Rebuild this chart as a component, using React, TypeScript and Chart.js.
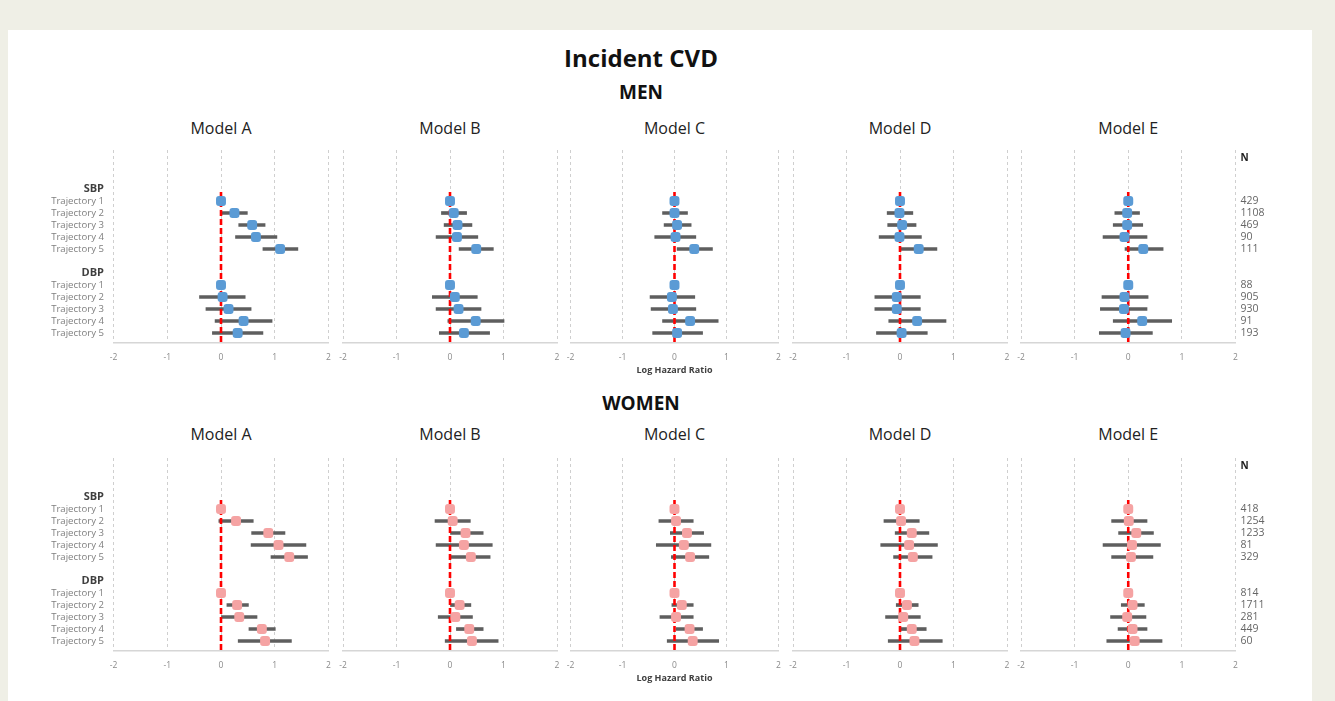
import React, { useEffect, useRef } from "react";
import { Chart, registerables } from "chart.js";

Chart.register(...registerables);

const FONT = "'Open Sans', 'DejaVu Sans', sans-serif";
Chart.defaults.font.family = FONT;

// ---------- data ----------
const TITLE = "Incident CVD";
const SECTIONS = ["MEN", "WOMEN"];
const MODELS = ["Model A", "Model B", "Model C", "Model D", "Model E"];
const X_AXIS_TITLE = "Log Hazard Ratio";
const N_HEADER = "N";

const ROW_LABELS = [
  "SBP", "Trajectory 1", "Trajectory 2", "Trajectory 3", "Trajectory 4", "Trajectory 5",
  "",
  "DBP", "Trajectory 1", "Trajectory 2", "Trajectory 3", "Trajectory 4", "Trajectory 5",
];

// order of values: SBP T1..T5, DBP T1..T5
const MEN_A_EST = [0, 0.25, 0.58, 0.65, 1.10, 0, 0.03, 0.14, 0.42, 0.31];
const MEN_A_LO = [null, 0.01, 0.33, 0.27, 0.78, null, -0.40, -0.28, -0.11, -0.16];
const MEN_A_HI = [null, 0.49, 0.82, 1.04, 1.43, null, 0.45, 0.56, 0.95, 0.78];

const MEN_B_EST = [0, 0.07, 0.14, 0.13, 0.49, 0, 0.09, 0.16, 0.48, 0.26];
const MEN_B_LO = [null, -0.16, -0.11, -0.26, 0.17, null, -0.33, -0.26, -0.04, -0.20];
const MEN_B_HI = [null, 0.31, 0.41, 0.52, 0.81, null, 0.51, 0.58, 1.01, 0.74];

const MEN_C_EST = [0, 0.0, 0.05, 0.02, 0.38, 0, -0.05, -0.03, 0.30, 0.05];
const MEN_C_LO = [null, -0.23, -0.20, -0.38, 0.05, null, -0.47, -0.45, -0.23, -0.42];
const MEN_C_HI = [null, 0.25, 0.32, 0.41, 0.73, null, 0.39, 0.41, 0.84, 0.54];

const MEN_D_EST = [0, -0.01, 0.04, -0.01, 0.35, 0, -0.06, -0.06, 0.32, 0.03];
const MEN_D_LO = [null, -0.24, -0.23, -0.39, 0.02, null, -0.47, -0.47, -0.21, -0.44];
const MEN_D_HI = [null, 0.24, 0.30, 0.40, 0.69, null, 0.38, 0.38, 0.86, 0.51];

const MEN_E_EST = [0, -0.02, -0.02, -0.07, 0.28, 0, -0.07, -0.08, 0.26, -0.05];
const MEN_E_LO = [null, -0.25, -0.28, -0.47, -0.06, null, -0.49, -0.52, -0.28, -0.54];
const MEN_E_HI = [null, 0.21, 0.27, 0.35, 0.65, null, 0.37, 0.35, 0.81, 0.45];

const WOMEN_A_EST = [0, 0.28, 0.88, 1.07, 1.27, 0, 0.30, 0.34, 0.76, 0.82];
const WOMEN_A_LO = [null, -0.04, 0.57, 0.56, 0.93, null, 0.11, 0.01, 0.52, 0.32];
const WOMEN_A_HI = [null, 0.60, 1.19, 1.58, 1.61, null, 0.51, 0.67, 1.01, 1.31];

const WOMEN_B_EST = [0, 0.05, 0.29, 0.26, 0.39, 0, 0.18, 0.10, 0.36, 0.41];
const WOMEN_B_LO = [null, -0.28, 0.0, -0.26, 0.0, null, 0.0, -0.22, 0.12, -0.09];
const WOMEN_B_HI = [null, 0.38, 0.62, 0.79, 0.75, null, 0.39, 0.42, 0.62, 0.90];

const WOMEN_C_EST = [0, 0.03, 0.24, 0.18, 0.30, 0, 0.14, 0.03, 0.29, 0.35];
const WOMEN_C_LO = [null, -0.30, -0.08, -0.35, -0.06, null, -0.05, -0.28, 0.03, -0.14];
const WOMEN_C_HI = [null, 0.36, 0.56, 0.70, 0.66, null, 0.36, 0.36, 0.54, 0.85];

const WOMEN_D_EST = [0, 0.02, 0.22, 0.17, 0.24, 0, 0.13, 0.06, 0.22, 0.27];
const WOMEN_D_LO = [null, -0.30, -0.09, -0.36, -0.12, null, -0.07, -0.27, -0.01, -0.22];
const WOMEN_D_HI = [null, 0.36, 0.54, 0.70, 0.60, null, 0.34, 0.38, 0.49, 0.79];

const WOMEN_E_EST = [0, 0.01, 0.15, 0.07, 0.05, 0, 0.08, -0.02, 0.08, 0.12];
const WOMEN_E_LO = [null, -0.31, -0.18, -0.47, -0.31, null, -0.13, -0.33, -0.19, -0.40];
const WOMEN_E_HI = [null, 0.35, 0.47, 0.60, 0.46, null, 0.30, 0.33, 0.35, 0.63];

const N_MEN = [429, 1108, 469, 90, 111, 88, 905, 930, 91, 193];
const N_WOMEN = [418, 1254, 1233, 81, 329, 814, 1711, 281, 449, 60];

const X_MIN = -2;
const X_MAX = 2;
const NULL_EFFECT = 0;

// ---------- layout / style ----------
const Y_MIN = -3.25;
const Y_MAX = 12.83;
const N_HEADER_ROW = -2.6;
const REF_LINE_TOP_ROW = 0.25;

const TRAJ_ROWS = ROW_LABELS.map((l, i) => (l.startsWith("Trajectory") ? i : -1)).filter((i) => i >= 0);
const isHeaderRow = (v: number) => ROW_LABELS[v] === "SBP" || ROW_LABELS[v] === "DBP";

const CANVAS_H = 240;
const PAD_TOP = 10;
const X_AXIS_H = 37;
const SECTION_TOPS = [140, 448];

const BOXES = [
  { left: 8, width: 327, padL: 0, padR: 6.5, yW: 105.5, nW: 0 },
  { left: 335, width: 228, padL: 8, padR: 6, yW: 0, nW: 0 },
  { left: 563, width: 222, padL: 7.5, padR: 6.5, yW: 0, nW: 0 },
  { left: 785, width: 228, padL: 8, padR: 6, yW: 0, nW: 0 },
  { left: 1013, width: 273, padL: 8, padR: 0, yW: 0, nW: 50.5 },
];

const MEN_COLOR = "#5b9bd5";
const WOMEN_COLOR = "#f5a3a3";
const BAR_COLOR = "#5e5e5e";

const zeroPad = (s: any) => {
  s.paddingLeft = 0;
  s.paddingRight = 0;
  s.paddingTop = 0;
  s.paddingBottom = 0;
};

type PanelProps = {
  est: number[];
  lo: (number | null)[];
  hi: (number | null)[];
  color: string;
  col: number;
  top: number;
  nValues?: number[];
  axisTitle?: boolean;
};

function Panel({ est, lo, hi, color, col, top, nValues, axisTitle }: PanelProps) {
  const ref = useRef<HTMLCanvasElement>(null);
  const box = BOXES[col];

  useEffect(() => {
    if (!ref.current) return;
    const points = est.map((v, i) => ({ x: v, y: TRAJ_ROWS[i] }));
    const bars = est
      .map((_, i) => (lo[i] == null || hi[i] == null ? null : { x: [lo[i], hi[i]], y: TRAJ_ROWS[i] }))
      .filter((d) => d !== null);
    const refLine = [
      { x: NULL_EFFECT, y: REF_LINE_TOP_ROW },
      { x: NULL_EFFECT, y: Y_MAX },
    ];

    const scales: any = {
      x: {
        type: "linear",
        min: X_MIN,
        max: X_MAX,
        position: "bottom",
        ticks: {
          stepSize: 1,
          color: "#8a8a8a",
          font: { size: 8.5, family: FONT },
          padding: 9,
          maxRotation: 0,
          autoSkip: false,
        },
        grid: { color: "#cfcfcf", lineWidth: 1, drawTicks: false },
        border: { display: true, color: "#d6d6d6", width: 1.5, dash: [3, 3] },
        title: axisTitle
          ? {
              display: true,
              text: X_AXIS_TITLE,
              color: "#404040",
              font: { size: 9, weight: "bold", family: FONT },
              padding: { top: 0, bottom: 4 },
            }
          : { display: false },
        afterFit: (s: any) => {
          s.height = X_AXIS_H;
          zeroPad(s);
        },
      },
      y: {
        type: "linear",
        min: Y_MIN,
        max: Y_MAX,
        reverse: true,
        offset: false,
        display: box.yW > 0,
        position: "left",
        grid: { display: false, offset: false, drawTicks: false, tickLength: 0 },
        border: { display: false },
        afterBuildTicks: (s: any) => {
          s.ticks = ROW_LABELS.map((_, i) => ({ value: i }));
        },
        ticks: {
          autoSkip: false,
          padding: 9.5,
          callback: (v: any) => ROW_LABELS[v] ?? "",
          color: (ctx: any) => (isHeaderRow(ctx.tick?.value) ? "#3f3f3f" : "#7f7f7f"),
          font: (ctx: any) =>
            isHeaderRow(ctx.tick?.value)
              ? { family: FONT, size: 11, weight: "bold" }
              : { family: FONT, size: 9.6 },
        },
        afterFit: (s: any) => {
          if (box.yW > 0) s.width = box.yW;
          zeroPad(s);
        },
      },
    };

    if (nValues) {
      scales.yN = {
        type: "linear",
        min: Y_MIN,
        max: Y_MAX,
        reverse: true,
        offset: false,
        display: true,
        position: "right",
        grid: { display: false, drawOnChartArea: false, drawTicks: false, tickLength: 0 },
        border: { display: false },
        afterBuildTicks: (s: any) => {
          s.ticks = [{ value: N_HEADER_ROW }, ...TRAJ_ROWS.map((v) => ({ value: v }))];
        },
        ticks: {
          autoSkip: false,
          padding: 5,
          callback: (v: any) => {
            if (v === N_HEADER_ROW) return N_HEADER;
            const k = TRAJ_ROWS.indexOf(v);
            return k >= 0 ? String(nValues[k]) : "";
          },
          color: (ctx: any) => (ctx.tick?.value === N_HEADER_ROW ? "#222" : "#666"),
          font: (ctx: any) =>
            ctx.tick?.value === N_HEADER_ROW
              ? { family: FONT, size: 10, weight: "bold" }
              : { family: FONT, size: 10.5 },
        },
        afterFit: (s: any) => {
          s.width = box.nW;
          zeroPad(s);
        },
      };
    }

    const chart = new Chart(ref.current, {
      type: "bar",
      data: {
        datasets: [
          {
            type: "scatter",
            data: points,
            yAxisID: "y",
            pointStyle: "rectRounded",
            pointRadius: 5.8,
            pointBackgroundColor: color,
            pointBorderWidth: 0,
            backgroundColor: color,
            order: 0,
          } as any,
          {
            type: "line",
            data: refLine,
            yAxisID: "y",
            borderColor: "#ff0000",
            borderWidth: 2.6,
            borderDash: [6, 3],
            pointRadius: 0,
            fill: false,
            order: 1,
          } as any,
          {
            type: "bar",
            data: bars,
            yAxisID: "y",
            backgroundColor: BAR_COLOR,
            barThickness: 3,
            borderWidth: 0,
            order: 2,
          } as any,
        ],
      },
      options: {
        indexAxis: "y",
        responsive: false,
        animation: false,
        events: [],
        layout: { padding: { left: box.padL, right: box.padR, top: PAD_TOP, bottom: 0 } },
        plugins: { legend: { display: false }, tooltip: { enabled: false }, title: { display: false } },
        scales,
      } as any,
    });
    return () => chart.destroy();
  }, []);

  return (
    <canvas
      ref={ref}
      width={box.width}
      height={CANVAS_H}
      style={{ position: "absolute", left: box.left, top, width: box.width, height: CANVAS_H }}
    />
  );
}

function Text({ x, y, size, bold, color, children }: any) {
  return (
    <div
      style={{
        position: "absolute",
        left: x,
        top: y,
        transform: "translate(-50%, -50%)",
        fontSize: size,
        fontWeight: bold ? 700 : 400,
        color,
        lineHeight: 1,
        whiteSpace: "nowrap",
        fontFamily: FONT,
      }}
    >
      {children}
    </div>
  );
}

const MEN_DATA = [
  [MEN_A_EST, MEN_A_LO, MEN_A_HI],
  [MEN_B_EST, MEN_B_LO, MEN_B_HI],
  [MEN_C_EST, MEN_C_LO, MEN_C_HI],
  [MEN_D_EST, MEN_D_LO, MEN_D_HI],
  [MEN_E_EST, MEN_E_LO, MEN_E_HI],
];
const WOMEN_DATA = [
  [WOMEN_A_EST, WOMEN_A_LO, WOMEN_A_HI],
  [WOMEN_B_EST, WOMEN_B_LO, WOMEN_B_HI],
  [WOMEN_C_EST, WOMEN_C_LO, WOMEN_C_HI],
  [WOMEN_D_EST, WOMEN_D_LO, WOMEN_D_HI],
  [WOMEN_E_EST, WOMEN_E_LO, WOMEN_E_HI],
];

const PANEL_CENTERS = BOXES.map((b) => {
  const l = b.left + b.padL + b.yW;
  const r = b.left + b.width - b.padR - b.nW;
  return (l + r) / 2;
});

export default function App() {
  const sections = [
    { name: SECTIONS[0], data: MEN_DATA, color: MEN_COLOR, n: N_MEN, headY: 92, modelY: 128 },
    { name: SECTIONS[1], data: WOMEN_DATA, color: WOMEN_COLOR, n: N_WOMEN, headY: 403, modelY: 434 },
  ];
  return (
    <div
      style={{
        position: "fixed",
        left: 0,
        top: 0,
        width: 1335,
        height: 701,
        background: "#efefe6",
        overflow: "hidden",
        fontFamily: FONT,
      }}
    >
      <div style={{ position: "absolute", left: 8, top: 30, width: 1304, height: 671, background: "#ffffff" }} />
      <Text x={641} y={58} size={24} bold color="#111">
        {TITLE}
      </Text>
      {sections.map((s, si) => (
        <React.Fragment key={s.name}>
          <Text x={641} y={s.headY} size={19} bold color="#111">
            {s.name}
          </Text>
          {MODELS.map((m, mi) => (
            <Text key={m} x={PANEL_CENTERS[mi]} y={s.modelY} size={16} color="#222">
              {m}
            </Text>
          ))}
          {s.data.map((d, mi) => (
            <Panel
              key={mi}
              est={d[0] as number[]}
              lo={d[1] as (number | null)[]}
              hi={d[2] as (number | null)[]}
              color={s.color}
              col={mi}
              top={SECTION_TOPS[si]}
              nValues={mi === 4 ? s.n : undefined}
              axisTitle={mi === 2}
            />
          ))}
        </React.Fragment>
      ))}
    </div>
  );
}
